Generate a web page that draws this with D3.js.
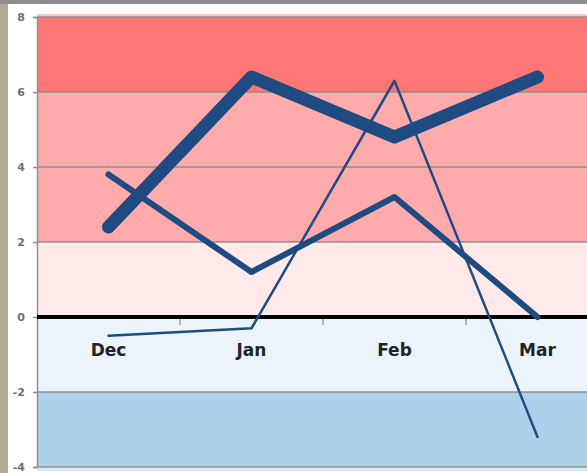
<!DOCTYPE html>
<html>
<head>
<meta charset="utf-8">
<script src="https://cdn.jsdelivr.net/npm/d3@7"></script>
<style>
	body { margin: 0; background: #b9ae98; }
	svg { display: block; }
</style>
</head>
<body>
<svg id="chart" width="587" height="473"></svg>
<script>
const categories = ['Dec', 'Jan', 'Feb', 'Mar'];
const thick_values = [2.4, 6.4, 4.8, 6.4];
const medium_values = [3.8, 1.2, 3.2, 0];
const thin_values = [-0.5, -0.3, 6.3, -3.2];
const y_ticks = [-4, -2, 0, 2, 4, 6, 8];
const bands = [
	{from: 6, to: 8, color: '#ff7676'},
	{from: 4, to: 6, color: '#ffabab'},
	{from: 2, to: 4, color: '#ffabab'},
	{from: 0, to: 2, color: '#ffe9e9'},
	{from: -2, to: 0, color: '#ebf3fb'},
	{from: -4, to: -2, color: '#aed1eb'}
];

const LINE_COLOR = '#1f4b83';

const svg = d3.select('#chart');

// photo-like backdrop and white panel
svg.append('rect').attr('width', 587).attr('height', 473).attr('fill', '#b3aa94');
svg.append('rect').attr('x', 0).attr('y', 0).attr('width', 587).attr('height', 4).attr('fill', '#8d8d8d');
svg.append('rect').attr('x', 8).attr('y', 4).attr('width', 579).attr('height', 469).attr('fill', '#ffffff');

const plot = {left: 37, right: 609, top: 17, bottom: 467};

const x = d3.scaleBand().domain(categories).range([plot.left, plot.right]);
const y = d3.scaleLinear().domain([-4, 8]).range([plot.bottom, plot.top]);

svg.selectAll('rect.band')
	.data(bands)
	.join('rect')
	.attr('class', 'band')
	.attr('x', plot.left)
	.attr('y', d => y(d.to))
	.attr('width', plot.right - plot.left)
	.attr('height', d => y(d.from) - y(d.to))
	.attr('fill', d => d.color);

svg.append('rect')
	.attr('x', plot.left).attr('y', y(8) - 3)
	.attr('width', plot.right - plot.left).attr('height', 3)
	.attr('fill', '#ffc8c8');

svg.append('rect')
	.attr('x', plot.left).attr('y', y(-4) + 1)
	.attr('width', plot.right - plot.left).attr('height', 3)
	.attr('fill', '#d6e6f3');

// grid lines
svg.selectAll('line.grid')
	.data(y_ticks.filter(t => t !== 0))
	.join('line')
	.attr('class', 'grid')
	.attr('x1', plot.left).attr('x2', plot.right)
	.attr('y1', d => y(d)).attr('y2', d => y(d))
	.attr('stroke', '#8f8f8f')
	.attr('stroke-width', 1.5);

// y axis
const y_axis = svg.append('g')
	.attr('transform', `translate(${plot.left},0)`)
	.call(d3.axisLeft(y).tickValues(y_ticks).tickSize(4).tickPadding(8).tickFormat(d => String(d)));

y_axis.select('.domain').attr('stroke', '#8f8f8f').attr('stroke-width', 1.5);
y_axis.selectAll('.tick line').attr('stroke', '#8f8f8f').attr('stroke-width', 1.5);
y_axis.selectAll('.tick text')
	.attr('fill', '#6f6f6f')
	.attr('font-family', 'DejaVu Sans, sans-serif')
	.attr('font-size', 11)
	.attr('font-weight', 'bold');

// zero axis with category labels
const x_axis = svg.append('g')
	.attr('transform', `translate(0,${y(0)})`)
	.call(d3.axisBottom(x).tickSize(0).tickPadding(27));

x_axis.select('.domain').remove();
x_axis.selectAll('.tick text')
	.attr('fill', '#222222')
	.attr('font-family', 'DejaVu Sans, sans-serif')
	.attr('font-size', 17)
	.attr('font-weight', 'bold');

svg.selectAll('line.cat-tick')
	.data(categories.slice(1))
	.join('line')
	.attr('class', 'cat-tick')
	.attr('x1', d => x(d)).attr('x2', d => x(d))
	.attr('y1', y(0)).attr('y2', y(0) + 8)
	.attr('stroke', '#8f8f8f')
	.attr('stroke-width', 1.2);

svg.append('line')
	.attr('x1', plot.left).attr('x2', plot.right)
	.attr('y1', y(0)).attr('y2', y(0))
	.attr('stroke', '#000000')
	.attr('stroke-width', 4);

// series
const line = d3.line()
	.x((d, i) => x(categories[i]) + x.bandwidth() / 2)
	.y(d => y(d));

const series = [
	{values: thin_values, width: 2.5},
	{values: medium_values, width: 6},
	{values: thick_values, width: 13}
];

svg.selectAll('path.series')
	.data(series)
	.join('path')
	.attr('class', 'series')
	.attr('d', d => line(d.values))
	.attr('fill', 'none')
	.attr('stroke', LINE_COLOR)
	.attr('stroke-width', d => d.width)
	.attr('stroke-linejoin', 'round')
	.attr('stroke-linecap', 'round');
</script>
</body>
</html>
